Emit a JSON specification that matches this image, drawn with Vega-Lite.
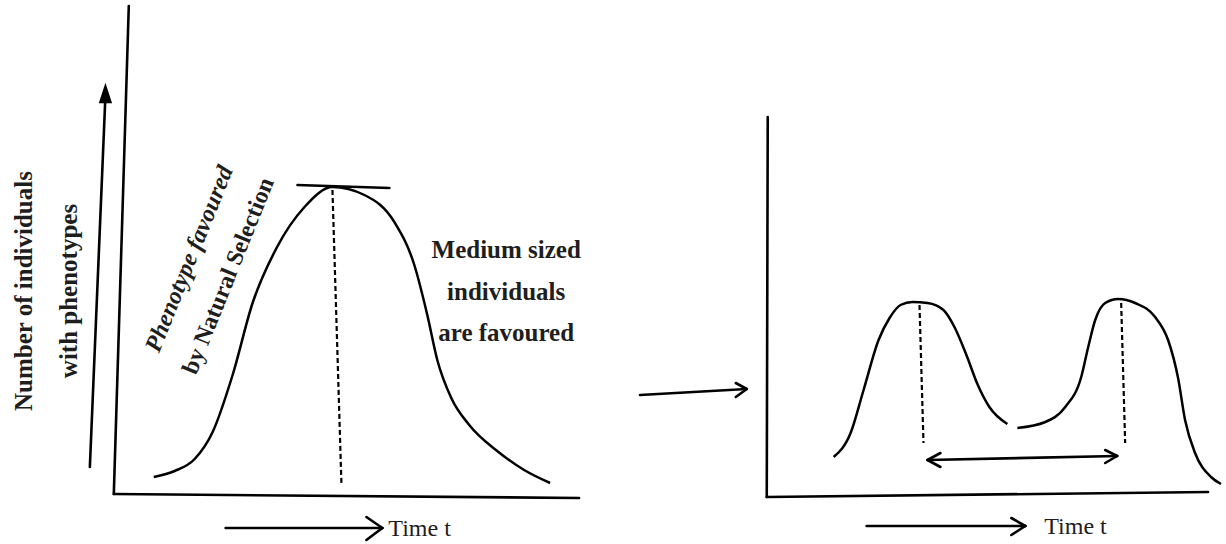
{
  "$schema": "https://vega.github.io/schema/vega-lite/v6.json",
  "width": 1226,
  "height": 544,
  "autosize": {"type": "fit", "contains": "padding"},
  "padding": 0,
  "background": "white",
  "config": {"view": {"stroke": null}},
  "datasets": {
    "solid": [
      {"part": "left y axis", "x": 129, "y": 6, "x2": 114, "y2": 494},
      {"part": "left x axis", "x": 114, "y": 494, "x2": 580, "y2": 498},
      {"part": "up arrow", "x": 90, "y": 467, "x2": 105.5, "y2": 98},
      {"part": "peak tangent", "x": 298, "y": 185, "x2": 390, "y2": 188},
      {"part": "time arrow L", "x": 226, "y": 528, "x2": 383, "y2": 528},
      {"part": "time head L1", "x": 367, "y": 517, "x2": 383, "y2": 528},
      {"part": "time head L2", "x": 367, "y": 540, "x2": 383, "y2": 528},
      {"part": "right y axis", "x": 769, "y": 117, "x2": 768, "y2": 497},
      {"part": "right x axis", "x": 768, "y": 497, "x2": 1210, "y2": 492},
      {"part": "input arrow", "x": 641, "y": 395, "x2": 748, "y2": 389},
      {"part": "input head 1", "x": 737, "y": 383, "x2": 748, "y2": 389},
      {"part": "input head 2", "x": 737, "y": 397, "x2": 748, "y2": 389},
      {"part": "double arrow", "x": 929, "y": 460, "x2": 1119, "y2": 456},
      {"part": "double head L1", "x": 942, "y": 453, "x2": 929, "y2": 460},
      {"part": "double head L2", "x": 942, "y": 467, "x2": 929, "y2": 460},
      {"part": "double head R1", "x": 1107, "y": 450, "x2": 1119, "y2": 456},
      {"part": "double head R2", "x": 1107, "y": 463, "x2": 1119, "y2": 456},
      {"part": "time arrow R", "x": 868, "y": 526, "x2": 1027, "y2": 526},
      {"part": "time head R1", "x": 1013, "y": 518, "x2": 1027, "y2": 526},
      {"part": "time head R2", "x": 1013, "y": 535, "x2": 1027, "y2": 526}
    ],
    "dashed": [
      {"part": "left peak", "x": 333, "y": 190, "x2": 342, "y2": 484},
      {"part": "right peak 1", "x": 921, "y": 305, "x2": 925, "y2": 443},
      {"part": "right peak 2", "x": 1123, "y": 303, "x2": 1127, "y2": 443}
    ],
    "curves": [
      {"c": "bell", "x": 154, "y": 477},
      {"c": "bell", "x": 175, "y": 471},
      {"c": "bell", "x": 195, "y": 459},
      {"c": "bell", "x": 213, "y": 432},
      {"c": "bell", "x": 233, "y": 375},
      {"c": "bell", "x": 253, "y": 303},
      {"c": "bell", "x": 277, "y": 248},
      {"c": "bell", "x": 305, "y": 207},
      {"c": "bell", "x": 333, "y": 187},
      {"c": "bell", "x": 365, "y": 195},
      {"c": "bell", "x": 395, "y": 222},
      {"c": "bell", "x": 415, "y": 265},
      {"c": "bell", "x": 428, "y": 315},
      {"c": "bell", "x": 438, "y": 360},
      {"c": "bell", "x": 452, "y": 398},
      {"c": "bell", "x": 470, "y": 425},
      {"c": "bell", "x": 498, "y": 451},
      {"c": "bell", "x": 525, "y": 470},
      {"c": "bell", "x": 551, "y": 483},
      {"c": "hump1", "x": 835, "y": 457},
      {"c": "hump1", "x": 852, "y": 433},
      {"c": "hump1", "x": 865, "y": 390},
      {"c": "hump1", "x": 880, "y": 340},
      {"c": "hump1", "x": 891, "y": 318},
      {"c": "hump1", "x": 902, "y": 305},
      {"c": "hump1", "x": 914, "y": 302},
      {"c": "hump1", "x": 929, "y": 303},
      {"c": "hump1", "x": 945, "y": 310},
      {"c": "hump1", "x": 956, "y": 327},
      {"c": "hump1", "x": 968, "y": 355},
      {"c": "hump1", "x": 979, "y": 384},
      {"c": "hump1", "x": 991, "y": 407},
      {"c": "hump1", "x": 1009, "y": 424},
      {"c": "hump2", "x": 1019, "y": 428},
      {"c": "hump2", "x": 1047, "y": 422},
      {"c": "hump2", "x": 1067, "y": 407},
      {"c": "hump2", "x": 1083, "y": 377},
      {"c": "hump2", "x": 1090, "y": 347},
      {"c": "hump2", "x": 1097, "y": 320},
      {"c": "hump2", "x": 1107, "y": 303},
      {"c": "hump2", "x": 1120, "y": 299},
      {"c": "hump2", "x": 1137, "y": 303},
      {"c": "hump2", "x": 1157, "y": 317},
      {"c": "hump2", "x": 1170, "y": 340},
      {"c": "hump2", "x": 1180, "y": 378},
      {"c": "hump2", "x": 1187, "y": 420},
      {"c": "hump2", "x": 1197, "y": 453},
      {"c": "hump2", "x": 1213, "y": 477},
      {"c": "hump2", "x": 1223, "y": 484}
    ],
    "heads": [
      {"part": "up arrow tip", "x": 105.6, "y": 93}
    ],
    "ylabels": [
      {"t": "Number of individuals", "x": 24, "y": 291},
      {"t": "with phenotypes", "x": 69, "y": 291}
    ],
    "pheno": [
      {"t": "Phenotype favoured", "x": 190, "y": 259}
    ],
    "natural": [
      {"t": "by Natural Selection", "x": 229, "y": 276}
    ],
    "medium": [
      {"t": "Medium sized", "x": 507, "y": 250},
      {"t": "individuals", "x": 507, "y": 292},
      {"t": "are favoured", "x": 507, "y": 333}
    ],
    "time": [
      {"t": "Time t", "x": 389, "y": 529},
      {"t": "Time t", "x": 1046, "y": 527}
    ]
  },
  "layer": [
    {
      "data": {"name": "solid"},
      "mark": {"type": "rule", "color": "#000000", "strokeWidth": 2.6, "strokeCap": "round"},
      "encoding": {
        "x": {"field": "x", "type": "quantitative", "scale": {"domain": [0, 1226], "nice": false, "zero": false}, "axis": null},
        "y": {"field": "y", "type": "quantitative", "scale": {"domain": [0, 544], "reverse": true, "nice": false, "zero": false}, "axis": null},
        "x2": {"field": "x2"},
        "y2": {"field": "y2"}
      }
    },
    {
      "data": {"name": "dashed"},
      "mark": {"type": "rule", "color": "#000000", "strokeWidth": 2.2, "strokeDash": [5, 3]},
      "encoding": {
        "x": {"field": "x", "type": "quantitative"},
        "y": {"field": "y", "type": "quantitative"},
        "x2": {"field": "x2"},
        "y2": {"field": "y2"}
      }
    },
    {
      "data": {"name": "curves"},
      "mark": {"type": "line", "color": "#000000", "strokeWidth": 2.5, "interpolate": "monotone"},
      "encoding": {
        "x": {"field": "x", "type": "quantitative"},
        "y": {"field": "y", "type": "quantitative"},
        "detail": {"field": "c", "type": "nominal"}
      }
    },
    {
      "data": {"name": "heads"},
      "mark": {"type": "point", "shape": "M-0.65,1L0,-1L0.65,1Z", "filled": true, "color": "#000000", "size": 420, "opacity": 1},
      "encoding": {
        "x": {"field": "x", "type": "quantitative"},
        "y": {"field": "y", "type": "quantitative"}
      }
    },
    {
      "data": {"name": "ylabels"},
      "mark": {"type": "text", "font": "Liberation Serif", "fontWeight": "bold", "fontSize": 25, "angle": 270, "align": "center", "baseline": "middle", "color": "#1e1e1e"},
      "encoding": {
        "x": {"field": "x", "type": "quantitative"},
        "y": {"field": "y", "type": "quantitative"},
        "text": {"field": "t"}
      }
    },
    {
      "data": {"name": "pheno"},
      "mark": {"type": "text", "font": "Liberation Serif", "fontWeight": "bold", "fontStyle": "italic", "fontSize": 24, "angle": 292, "align": "center", "baseline": "middle", "color": "#1e1e1e"},
      "encoding": {
        "x": {"field": "x", "type": "quantitative"},
        "y": {"field": "y", "type": "quantitative"},
        "text": {"field": "t"}
      }
    },
    {
      "data": {"name": "natural"},
      "mark": {"type": "text", "font": "Liberation Serif", "fontWeight": "bold", "fontSize": 24, "angle": 292, "align": "center", "baseline": "middle", "color": "#1e1e1e"},
      "encoding": {
        "x": {"field": "x", "type": "quantitative"},
        "y": {"field": "y", "type": "quantitative"},
        "text": {"field": "t"}
      }
    },
    {
      "data": {"name": "medium"},
      "mark": {"type": "text", "font": "Liberation Serif", "fontWeight": "bold", "fontSize": 25, "align": "center", "baseline": "middle", "color": "#1e1e1e"},
      "encoding": {
        "x": {"field": "x", "type": "quantitative"},
        "y": {"field": "y", "type": "quantitative"},
        "text": {"field": "t"}
      }
    },
    {
      "data": {"name": "time"},
      "mark": {"type": "text", "font": "Liberation Serif", "fontSize": 24, "align": "left", "baseline": "middle", "color": "#1e1e1e"},
      "encoding": {
        "x": {"field": "x", "type": "quantitative"},
        "y": {"field": "y", "type": "quantitative"},
        "text": {"field": "t"}
      }
    }
  ]
}
